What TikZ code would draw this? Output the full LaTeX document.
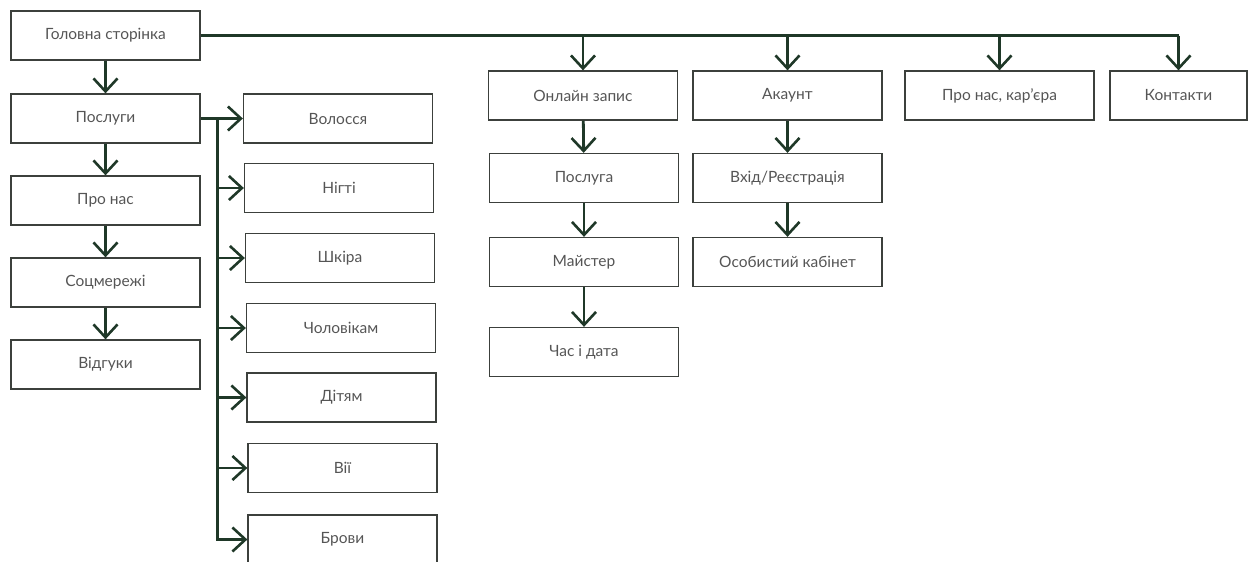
\documentclass[tikz,border=0pt]{standalone}
\usepackage{fontspec}
\setmainfont{Lato}
\usetikzlibrary{arrows.meta}
\usetikzlibrary{calc}

\definecolor{linegreen}{RGB}{31,56,40}
\definecolor{boxgray}{RGB}{60,64,60}
\definecolor{textgray}{RGB}{85,85,85}

\tikzset{
  page/.style={rectangle, draw=boxgray, line width=1.3pt, minimum width=189pt,
    minimum height=49pt, inner sep=0pt, text=textgray, font=\fontsize{15.5}{18}\selectfont},
  link/.style={draw=linegreen, line width=2.8pt},
  arr/.style={link, -{Straight Barb[length=13pt,width=24pt,line width=2.6pt]}}
}

\begin{document}
\begin{tikzpicture}[x=1pt, y=-1pt]
\useasboundingbox (0,0) rectangle (1248,562);

% left column
\node[page] (home) at (105.5,35.5) {Головна сторінка};
\node[page] (services) at (105.5,118.5) {Послуги};
\node[page] (about) at (105.5,200.5) {Про нас};
\node[page] (social) at (105.5,282.5) {Соцмережі};
\node[page] (reviews) at (105.5,364.5) {Відгуки};

% services
\node[page] (hair) at (338,118.5) {Волосся};
\node[page] (nails) at (339,188) {Нігті};
\node[page] (skin) at (340,258) {Шкіра};
\node[page] (men) at (341,328) {Чоловікам};
\node[page] (kids) at (341.5,397.5) {Дітям};
\node[page] (lashes) at (342.5,468) {Вії};
\node[page] (brows) at (342.5,539.5) {Брови};

% booking
\node[page] (booking) at (583,95.5) {Онлайн запис};
\node[page] (service) at (584,178) {Послуга};
\node[page] (master) at (584,262) {Майстер};
\node[page] (datetime) at (584,352) {Час і дата};

% account
\node[page] (account) at (787.5,95.5) {Акаунт};
\node[page] (login) at (787.5,178) {Вхід/Реєстрація};
\node[page] (cabinet) at (787.5,262) {Особистий кабінет};

\node[page] (career) at (999.5,95.5) {Про нас, кар’єра};
\node[page, minimum width=137pt] (contacts) at (1178.5,95.5) {Контакти};

% links
\draw[arr] (home) -- (services);
\draw[arr] (services) -- (about);
\draw[arr] (about) -- (social);
\draw[arr] (social) -- (reviews);

\draw[link] (home.east) -| (contacts.north |- home.east);
\foreach \n in {booking, account, career, contacts}
  \draw[arr] (\n.north |- home.east) -- (\n.north);

\coordinate (trunk) at ($(services.east)+(17,0)$);
\draw[link] (services.east) -- (trunk);
\foreach \n in {hair, nails, skin, men, kids, lashes, brows}
  \draw[arr] (trunk) |- (\n.west);

\draw[arr] (booking) -- (service);
\draw[arr] (service) -- (master);
\draw[arr] (master) -- (datetime);
\draw[arr] (account) -- (login);
\draw[arr] (login) -- (cabinet);

\end{tikzpicture}
\end{document}
